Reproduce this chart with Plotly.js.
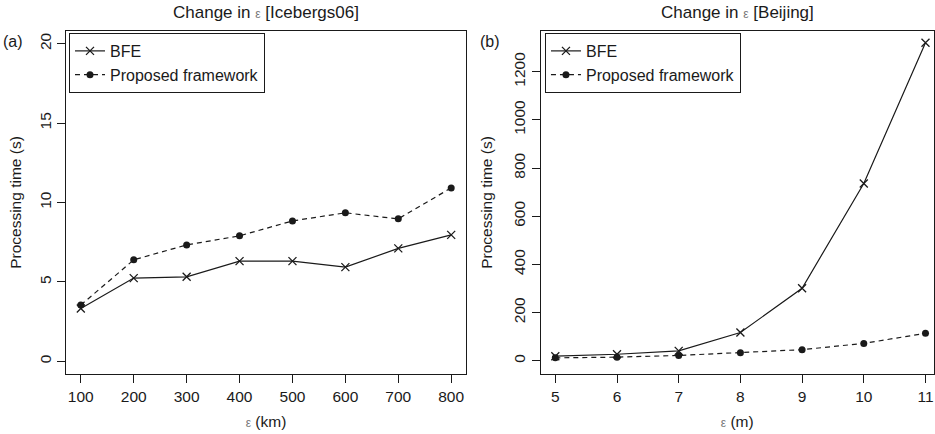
<!DOCTYPE html>
<html>
<head>
<meta charset="utf-8">
<script src="https://cdn.plot.ly/plotly-3.0.1.min.js"></script>
<style>html,body{margin:0;padding:0;background:#fff;}#chart{width:935px;height:434px;}</style>
</head>
<body>
<div id="chart"></div>
<script>
// Panel (a): Icebergs06
const epsKm = [100, 200, 300, 400, 500, 600, 700, 800];
const bfeIce = [3.33, 5.24, 5.32, 6.31, 6.31, 5.93, 7.11, 7.96];
const propIce = [3.54, 6.39, 7.33, 7.90, 8.84, 9.35, 8.97, 10.92];
// Panel (b): Beijing
const epsM = [5, 6, 7, 8, 9, 10, 11];
const bfeBj = [19, 27, 41, 117, 301, 736, 1320];
const propBj = [12, 15, 22, 33, 46, 72, 114];

const ticksXa = [100, 200, 300, 400, 500, 600, 700, 800];
const ticksYa = [0, 5, 10, 15, 20];
const ticksXb = [5, 6, 7, 8, 9, 10, 11];
const ticksYb = [0, 200, 400, 600, 800, 1000, 1200];

const FONT = 'Liberation Sans, Arial, Helvetica, sans-serif';
const INK = '#1a1a1a';
const EPS = '<span style="font-size:12px;color:#777">ε</span>';

function bfeTrace(x, y, xa, ya, leg) {
  return {x: x, y: y, xaxis: xa, yaxis: ya, legend: leg, name: 'BFE', type: 'scatter', mode: 'lines+markers',
    line: {color: INK, width: 1.2},
    marker: {symbol: 'x-thin', size: 8, color: INK, line: {color: INK, width: 1.3}}};
}
function propTrace(x, y, xa, ya, leg) {
  return {x: x, y: y, xaxis: xa, yaxis: ya, legend: leg, name: 'Proposed framework', type: 'scatter', mode: 'lines+markers',
    line: {color: INK, width: 1.2, dash: '5px,4px'},
    marker: {symbol: 'circle', size: 7, color: INK}};
}

const data = [
  bfeTrace(epsKm, bfeIce, 'x', 'y', 'legend'),
  propTrace(epsKm, propIce, 'x', 'y', 'legend'),
  bfeTrace(epsM, bfeBj, 'x2', 'y2', 'legend2'),
  propTrace(epsM, propBj, 'x2', 'y2', 'legend2')
];

function axis(extra) {
  return Object.assign({
    showgrid: false, zeroline: false, showline: true, mirror: true,
    linecolor: INK, linewidth: 1, ticks: 'outside', ticklen: 8, tickwidth: 1, tickcolor: INK,
    tickfont: {family: FONT, size: 15.5, color: INK}, tickmode: 'array'
  }, extra);
}

const layout = {
  width: 935, height: 434,
  margin: {l: 66, r: 1, t: 31, b: 60},
  paper_bgcolor: '#fff', plot_bgcolor: '#fff',
  font: {family: FONT, color: INK},
  showlegend: true,
  xaxis: axis({domain: [0, 0.46083], range: [72, 828], tickvals: ticksXa, anchor: 'y',
    title: {text: EPS + ' (km)', font: {family: FONT, size: 15.5, color: INK}, standoff: 12}}),
  yaxis: axis({domain: [0, 1], range: [-0.8, 20.8], tickvals: ticksYa, tickangle: -90, anchor: 'x',
    title: {text: 'Processing time (s)', font: {family: FONT, size: 15.5, color: INK}, standoff: 11}}),
  xaxis2: axis({domain: [0.54666, 1], range: [4.76, 11.138], tickvals: ticksXb, anchor: 'y2',
    title: {text: EPS + ' (m)', font: {family: FONT, size: 15.5, color: INK}, standoff: 12}}),
  yaxis2: axis({domain: [0, 1], range: [-55, 1369], tickvals: ticksYb, tickangle: -90, anchor: 'x2',
    title: {text: 'Processing time (s)', font: {family: FONT, size: 15.5, color: INK}, standoff: 14}}),
  legend: {x: 0.00346, y: 0.9942, xanchor: 'left', yanchor: 'top', bgcolor: '#fff', bordercolor: INK, borderwidth: 1,
    font: {family: FONT, size: 16, color: INK}, tracegroupgap: 0},
  legend2: {x: 0.5518, y: 0.9942, xanchor: 'left', yanchor: 'top', bgcolor: '#fff', bordercolor: INK, borderwidth: 1,
    font: {family: FONT, size: 16, color: INK}, tracegroupgap: 0},
  annotations: [
    {xref: 'paper', yref: 'paper', x: 0.23042, y: 1.0525, xanchor: 'center', yanchor: 'middle', showarrow: false,
     text: 'Change in ' + EPS + ' [Icebergs06]', font: {family: FONT, size: 17, color: INK}},
    {xref: 'paper', yref: 'paper', x: 0.77333, y: 1.0525, xanchor: 'center', yanchor: 'middle', showarrow: false,
     text: 'Change in ' + EPS + ' [Beijing]', font: {family: FONT, size: 17, color: INK}},
    {xref: 'paper', yref: 'paper', x: -0.0611, y: 0.968, xanchor: 'center', yanchor: 'middle', showarrow: false,
     text: '(a)', font: {family: FONT, size: 16, color: INK}},
    {xref: 'paper', yref: 'paper', x: 0.4885, y: 0.968, xanchor: 'center', yanchor: 'middle', showarrow: false,
     text: '(b)', font: {family: FONT, size: 16, color: INK}}
  ]
};

Plotly.newPlot('chart', data, layout, {displayModeBar: false, staticPlot: true});
</script>
</body>
</html>
